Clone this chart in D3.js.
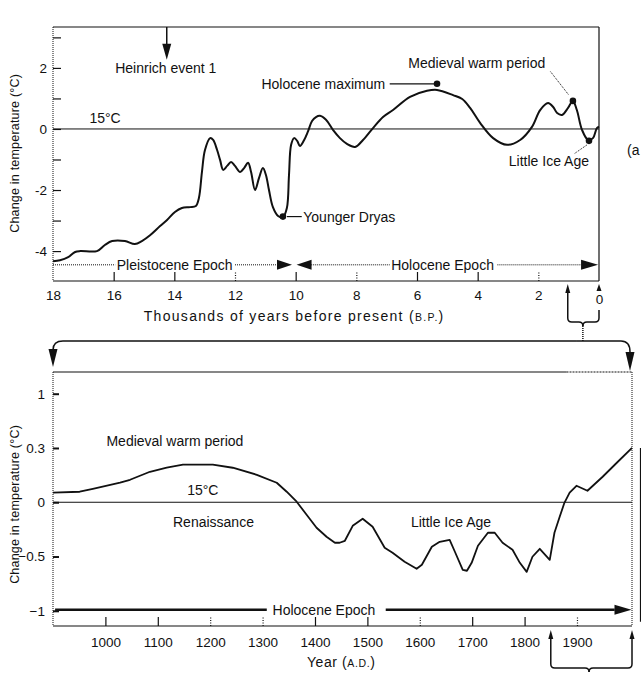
<!DOCTYPE html>
<html>
<head>
<meta charset="utf-8">
<script src="https://cdn.jsdelivr.net/npm/d3@7/dist/d3.min.js"></script>
<style>
  html, body { margin: 0; padding: 0; background: #fff; }
  svg { display: block; }
  text { font-family: "Liberation Sans", Arial, Helvetica, sans-serif; fill: #111; }
</style>
</head>
<body>
<svg id="chart" width="641" height="673"></svg>
<script>
// ---------- DATA ----------
// Top panel: thousands of years before present vs temperature change (°C)
const topYears = [18.0, 17.77, 17.5, 17.27, 17.1, 16.55, 16.29, 16.05, 15.63, 15.3, 15.07, 14.8, 14.47, 14.24, 13.98, 13.75, 13.48, 13.29, 13.19, 13.09, 12.99, 12.82, 12.72, 12.59, 12.49, 12.39, 12.26, 12.13, 12.0, 11.83, 11.7, 11.57, 11.47, 11.34, 11.21, 11.08, 10.98, 10.88, 10.75, 10.58, 10.42, 10.29, 10.22, 10.15, 10.05, 9.95, 9.86, 9.72, 9.59, 9.46, 9.33, 9.2, 9.0, 8.77, 8.54, 8.31, 8.04, 7.78, 7.45, 7.12, 6.79, 6.23, 5.67, 5.34, 4.81, 4.51, 4.25, 3.92, 3.49, 3.03, 2.6, 2.21, 1.94, 1.68, 1.51, 1.38, 1.22, 1.02, 0.86, 0.73, 0.56, 0.36, 0.2, 0.07, 0.0];
const topTemps = [-4.33, -4.3, -4.2, -4.03, -4.0, -4.0, -3.8, -3.67, -3.67, -3.77, -3.67, -3.48, -3.18, -2.98, -2.72, -2.59, -2.56, -2.52, -2.26, -1.41, -0.69, -0.3, -0.36, -0.69, -1.02, -1.34, -1.21, -1.08, -1.21, -1.41, -1.28, -1.11, -1.41, -2.0, -1.61, -1.28, -1.51, -2.0, -2.56, -2.85, -2.89, -2.59, -1.51, -0.52, -0.3, -0.39, -0.56, -0.36, -0.07, 0.26, 0.39, 0.43, 0.3, -0.03, -0.3, -0.49, -0.59, -0.36, 0.03, 0.39, 0.62, 1.05, 1.25, 1.28, 1.11, 0.98, 0.69, 0.2, -0.3, -0.52, -0.36, 0.07, 0.62, 0.85, 0.72, 0.52, 0.46, 0.69, 0.92, 0.62, -0.03, -0.36, -0.3, 0.03, 0.07];
const topXTicks = [18, 16, 14, 12, 10, 8, 6, 4, 2, 0];
const topXDotted = [12, 8, 2];
const topYTicks = [-4, -3, -2, -1, 0, 1, 2, 3];
const topYLabels = ["-4", "", "-2", "", "0", "", "2", ""];

// Top panel annotated points
const eventNames = ["Younger Dryas", "Holocene maximum", "Medieval warm period", "Little Ice Age"];
const eventYears = [10.42, 5.34, 0.86, 0.33];
const eventTemps = [-2.87, 1.48, 0.92, -0.39];

// Bottom panel: year AD vs temperature change (°C)
const botYears = [900, 951, 976, 1028, 1047, 1085, 1117, 1148, 1180, 1205, 1243, 1289, 1327, 1346, 1365, 1384, 1403, 1422, 1438, 1447, 1457, 1472, 1491, 1510, 1533, 1548, 1571, 1594, 1604, 1623, 1638, 1657, 1667, 1682, 1690, 1699, 1711, 1730, 1743, 1758, 1777, 1791, 1804, 1815, 1829, 1848, 1857, 1867, 1876, 1886, 1899, 1920, 1949, 1976, 2005];
const botTemps = [0.088, 0.097, 0.124, 0.18, 0.207, 0.281, 0.318, 0.346, 0.346, 0.346, 0.318, 0.253, 0.18, 0.097, 0.005, -0.115, -0.235, -0.318, -0.373, -0.373, -0.355, -0.217, -0.152, -0.226, -0.419, -0.465, -0.548, -0.613, -0.576, -0.41, -0.364, -0.346, -0.456, -0.622, -0.631, -0.558, -0.401, -0.281, -0.281, -0.373, -0.438, -0.558, -0.641, -0.502, -0.429, -0.53, -0.281, -0.134, -0.005, 0.088, 0.152, 0.106, 0.235, 0.364, 0.502];
const botXTicks = [1000, 1100, 1200, 1300, 1400, 1500, 1600, 1700, 1800, 1900];
const botXDotted = [1200, 1300, 1600, 1900];
const botYTicks = [-1, -0.5, 0, 0.5, 1];
const botYLabels = ["\u22121", "\u22120.5", "0", "0.3", "1"];

// ---------- DRAWING ----------
(function () {
const svg = d3.select("#chart");
const FONT = 14;      // annotation labels
const TICKF = 13.5;   // tick labels
const YTF = 12.5;     // y-axis titles

function arrowHead(g, x, y, dir, len, half) {
  let pts;
  if (dir === "down") pts = [[x, y], [x - half, y - len], [x + half, y - len]];
  if (dir === "up") pts = [[x, y], [x - half, y + len], [x + half, y + len]];
  if (dir === "right") pts = [[x, y], [x - len, y - half], [x - len, y + half]];
  if (dir === "left") pts = [[x, y], [x + len, y - half], [x + len, y + half]];
  g.append("path").attr("d", "M" + pts.map(p => p.join(",")).join("L") + "Z").attr("fill", "#111");
}

// ===== TOP PANEL =====
const xT = d3.scaleLinear().domain([18, 0]).range([53, 599]);
const yT = d3.scaleLinear().domain([-4.98, 3.34]).range([281, 27]);
const gT = svg.append("g");

gT.append("line").attr("x1", xT(18)).attr("x2", xT(0)).attr("y1", yT(3.34)).attr("y2", yT(3.34)).attr("stroke", "#111").attr("stroke-width", 1.2);
gT.append("line").attr("x1", xT(0)).attr("x2", xT(0)).attr("y1", yT(3.34)).attr("y2", yT(-4.98)).attr("stroke", "#111").attr("stroke-width", 1.2);
gT.append("line").attr("x1", xT(18)).attr("x2", xT(0)).attr("y1", yT(-4.98)).attr("y2", yT(-4.98)).attr("stroke", "#111").attr("stroke-width", 1.2);
gT.append("line").attr("x1", xT(18)).attr("x2", xT(18)).attr("y1", yT(3.34)).attr("y2", yT(-4.98)).attr("stroke", "#111").attr("stroke-width", 1).attr("stroke-dasharray", "1,1");

const yAxT = gT.append("g").attr("transform", `translate(${xT(18)},0)`)
  .call(d3.axisLeft(yT).tickValues(topYTicks).tickSize(-8).tickPadding(6)
    .tickFormat((d, i) => topYLabels[i]));
yAxT.select(".domain").remove();
yAxT.selectAll(".tick line").attr("stroke", "#111").attr("stroke-width", 1.2);
yAxT.selectAll(".tick text").attr("font-size", TICKF).attr("fill", "#111");

const xAxT = gT.append("g").attr("transform", `translate(0,${yT(-4.98)})`)
  .call(d3.axisBottom(xT).tickValues(topXTicks).tickSize(-9).tickPadding(9).tickFormat(d3.format("d")));
xAxT.select(".domain").remove();
xAxT.selectAll(".tick line").attr("stroke", "#111").attr("stroke-width", 1.2)
  .attr("stroke-dasharray", d => topXDotted.includes(d) ? "1,1.5" : null)
  .attr("opacity", d => (d === 18 || d === 0) ? 0 : 1);
xAxT.selectAll(".tick text").attr("font-size", TICKF).attr("fill", "#111")
  .attr("dy", d => d === 0 ? "1em" : "0.71em");

gT.append("line").attr("x1", xT(18)).attr("x2", xT(0)).attr("y1", yT(0)).attr("y2", yT(0)).attr("stroke", "#111").attr("stroke-width", 1);
gT.append("text").attr("x", xT(16.8)).attr("y", yT(0) - 6).attr("font-size", FONT).text("15°C");

const lineT = d3.line().x((d, i) => xT(topYears[i])).y((d, i) => yT(topTemps[i])).curve(d3.curveCatmullRom.alpha(0.5));
gT.append("path").datum(topYears).attr("d", lineT).attr("fill", "none").attr("stroke", "#111").attr("stroke-width", 2);

gT.selectAll("circle.ev").data(eventNames).enter().append("circle")
  .attr("cx", (d, i) => xT(eventYears[i])).attr("cy", (d, i) => yT(eventTemps[i])).attr("r", 3.3).attr("fill", "#111");

// Younger Dryas
gT.append("line").attr("x1", xT(eventYears[0]) + 4).attr("x2", xT(9.8)).attr("y1", yT(eventTemps[0])).attr("y2", yT(eventTemps[0])).attr("stroke", "#111").attr("stroke-width", 1.2);
gT.append("text").attr("x", xT(9.75)).attr("y", yT(eventTemps[0]) + 5).attr("font-size", FONT).text(eventNames[0]);

// Holocene maximum
gT.append("text").attr("x", xT(7.05)).attr("y", yT(eventTemps[1]) + 5).attr("font-size", FONT).attr("text-anchor", "end").text(eventNames[1]);
gT.append("line").attr("x1", xT(6.9)).attr("x2", xT(eventYears[1]) - 3).attr("y1", yT(eventTemps[1])).attr("y2", yT(eventTemps[1])).attr("stroke", "#111").attr("stroke-width", 1.2);

// Medieval warm period
gT.append("text").attr("x", xT(1.77)).attr("y", yT(2.0)).attr("font-size", FONT).attr("text-anchor", "end").text(eventNames[2]);
gT.append("line").attr("x1", xT(1.6)).attr("y1", yT(1.88)).attr("x2", xT(eventYears[2]) - 4).attr("y2", yT(eventTemps[2]) - 5.7)
  .attr("stroke", "#111").attr("stroke-width", 1).attr("stroke-dasharray", "1,1");

// Little Ice Age
gT.append("text").attr("x", xT(0.33)).attr("y", yT(-1.2)).attr("font-size", FONT).attr("text-anchor", "end").text(eventNames[3]);
gT.append("line").attr("x1", xT(0.8)).attr("y1", yT(-0.8)).attr("x2", xT(eventYears[3]) - 2).attr("y2", yT(eventTemps[3]) + 4)
  .attr("stroke", "#111").attr("stroke-width", 1).attr("stroke-dasharray", "1,1");

// Heinrich event 1
gT.append("line").attr("x1", xT(14.25)).attr("x2", xT(14.25)).attr("y1", yT(3.34)).attr("y2", yT(2.6)).attr("stroke", "#111").attr("stroke-width", 1.5);
arrowHead(gT, xT(14.25), yT(2.27), "down", 16, 4.5);
gT.append("text").attr("x", xT(15.95)).attr("y", yT(2) + 5).attr("font-size", FONT).text("Heinrich event 1");

gT.append("text").attr("x", 627).attr("y", yT(-0.85)).attr("font-size", FONT).text("(a");

// Epoch arrows
const epY = yT(-4.45);
gT.append("line").attr("x1", xT(18)).attr("x2", xT(15.95)).attr("y1", epY).attr("y2", epY).attr("stroke", "#111").attr("stroke-dasharray", "1,1");
gT.append("text").attr("x", xT(15.9)).attr("y", epY + 5).attr("font-size", FONT).text("Pleistocene Epoch");
gT.append("line").attr("x1", xT(12.0)).attr("x2", xT(10.6)).attr("y1", epY).attr("y2", epY).attr("stroke", "#111").attr("stroke-dasharray", "1,1");
arrowHead(gT, xT(10.12), epY, "right", 15, 5);
arrowHead(gT, xT(9.97), epY, "left", 15, 5);
gT.append("line").attr("x1", xT(9.5)).attr("x2", xT(6.9)).attr("y1", epY).attr("y2", epY).attr("stroke", "#111").attr("stroke-dasharray", "1,1");
gT.append("text").attr("x", xT(6.85)).attr("y", epY + 5).attr("font-size", FONT).text("Holocene Epoch");
gT.append("line").attr("x1", xT(3.35)).attr("x2", xT(0.6)).attr("y1", epY).attr("y2", epY).attr("stroke", "#111").attr("stroke-dasharray", "1,1");
arrowHead(gT, xT(0.03), epY, "right", 17, 5);

// axis titles
const tT = gT.append("text").attr("x", xT(10.05)).attr("y", 321).attr("font-size", FONT).attr("letter-spacing", 1.3).attr("text-anchor", "middle");
tT.append("tspan").text("Thousands of years before present (");
tT.append("tspan").attr("font-size", 10.5).text("B.P.");
tT.append("tspan").text(")");
gT.append("text").attr("transform", `translate(19,${yT(-0.8)}) rotate(-90)`).attr("font-size", YTF).attr("letter-spacing", 0.2).attr("text-anchor", "middle").text("Change in temperature (°C)");

// brace below top axis
const bx1 = xT(1.03), bx2 = xT(0), bxm = (bx1 + bx2) / 2 - 0.5;
const b = svg.append("g").attr("fill", "none").attr("stroke", "#111").attr("stroke-width", 1.5);
b.append("path").attr("d", `M${bx1},292 V318 Q${bx1},322 ${bx1 + 4},322 H${bxm - 4} Q${bxm},322 ${bxm},326`);
b.append("path").attr("d", `M${bx2},310 V318 Q${bx2},322 ${bx2 - 4},322 H${bxm + 4} Q${bxm},322 ${bxm},326`);
b.append("line").attr("x1", bxm).attr("x2", bxm).attr("y1", 326).attr("y2", 341).attr("stroke-dasharray", "1,1");
arrowHead(svg, bx1, 284, "up", 9, 2.5);
arrowHead(svg, bx2, 284, "up", 7, 2.5);

// ===== BOTTOM PANEL =====
const xB = d3.scaleLinear().domain([900, 2005]).range([53, 632]);
const yB = d3.scaleLinear().domain([-1.14, 1.2]).range([626, 372]);
const gB = svg.append("g");

const cy = 341;
const c = svg.append("g").attr("fill", "none").attr("stroke", "#111").attr("stroke-width", 1.5);
c.append("path").attr("d", `M${xB(1900)},${cy} H${xB(2005) - 11} Q${xB(2005) - 2},${cy} ${xB(2005) - 2},${cy + 11}`);
c.append("path").attr("d", `M${xB(1900)},${cy} H${xB(900) + 10} Q${xB(900)},${cy} ${xB(900)},${cy + 9}`);
arrowHead(svg, xB(900), 367, "down", 18, 4.5);
arrowHead(svg, xB(2005) - 2, 371, "down", 19, 4.5);

gB.append("line").attr("x1", xB(900)).attr("x2", xB(1880)).attr("y1", yB(1.2)).attr("y2", yB(1.2)).attr("stroke", "#111").attr("stroke-width", 1.2);
gB.append("line").attr("x1", xB(1880)).attr("x2", xB(2005)).attr("y1", yB(1.2)).attr("y2", yB(1.2)).attr("stroke", "#111").attr("stroke-width", 1.2).attr("stroke-dasharray", "2,1");
gB.append("line").attr("x1", xB(2005)).attr("x2", xB(2005)).attr("y1", yB(1.2)).attr("y2", yB(-1.14)).attr("stroke", "#111").attr("stroke-width", 1).attr("stroke-dasharray", "1,1");
gB.append("line").attr("x1", xB(900)).attr("x2", xB(900)).attr("y1", yB(1.2)).attr("y2", yB(-1.14)).attr("stroke", "#111").attr("stroke-width", 1).attr("stroke-dasharray", "1,1");
gB.append("line").attr("x1", xB(900)).attr("x2", xB(2005)).attr("y1", yB(-1.14)).attr("y2", yB(-1.14)).attr("stroke", "#111").attr("stroke-width", 1.2);

const yAxB = gB.append("g").attr("transform", `translate(${xB(900)},0)`)
  .call(d3.axisLeft(yB).tickValues(botYTicks).tickSize(-6).tickPadding(8)
    .tickFormat((d, i) => botYLabels[i]));
yAxB.select(".domain").remove();
yAxB.selectAll(".tick line").attr("stroke", "#111").attr("stroke-width", 2);
yAxB.selectAll(".tick text").attr("font-size", TICKF).attr("fill", "#111");

const xAxB = gB.append("g").attr("transform", `translate(0,${yB(-1.14)})`)
  .call(d3.axisBottom(xB).tickValues(botXTicks).tickSize(-9).tickPadding(11).tickFormat(d3.format("d")));
xAxB.select(".domain").remove();
xAxB.selectAll(".tick line").attr("stroke", "#111").attr("stroke-width", 1.2)
  .attr("stroke-dasharray", d => botXDotted.includes(d) ? "1,1.5" : null);
xAxB.selectAll(".tick text").attr("font-size", TICKF).attr("fill", "#111");

gB.append("line").attr("x1", xB(900)).attr("x2", xB(2005)).attr("y1", yB(0)).attr("y2", yB(0)).attr("stroke", "#111").attr("stroke-width", 1);

const lineB = d3.line().x((d, i) => xB(botYears[i])).y((d, i) => yB(botTemps[i])).curve(d3.curveLinear);
gB.append("path").datum(botYears).attr("d", lineB).attr("fill", "none").attr("stroke", "#111").attr("stroke-width", 1.8).attr("stroke-linejoin", "round");

gB.append("text").attr("x", xB(1002)).attr("y", yB(0.52)).attr("font-size", FONT).text("Medieval warm period");
gB.append("text").attr("x", xB(1186)).attr("y", yB(0.07)).attr("font-size", FONT).attr("text-anchor", "middle").text("15°C");
gB.append("text").attr("x", xB(1129)).attr("y", yB(-0.23)).attr("font-size", FONT).text("Renaissance");
gB.append("text").attr("x", xB(1583)).attr("y", yB(-0.23)).attr("font-size", FONT).text("Little Ice Age");

const eY = yB(-0.99);
gB.append("line").attr("x1", xB(904)).attr("x2", xB(1308)).attr("y1", eY).attr("y2", eY).attr("stroke", "#111").attr("stroke-width", 2.6);
gB.append("text").attr("x", xB(1319)).attr("y", eY + 5).attr("font-size", FONT).text("Holocene Epoch");
gB.append("line").attr("x1", xB(1535)).attr("x2", xB(1972)).attr("y1", eY).attr("y2", eY).attr("stroke", "#111").attr("stroke-width", 2.6);
arrowHead(gB, xB(2004), eY, "right", 17, 5);

const tB = gB.append("text").attr("x", xB(1450)).attr("y", 667).attr("font-size", FONT).attr("letter-spacing", 0.6).attr("text-anchor", "middle");
tB.append("tspan").text("Year (");
tB.append("tspan").attr("font-size", 10.5).text("A.D.");
tB.append("tspan").text(")");
gB.append("text").attr("transform", `translate(19,${yB(-0.02)}) rotate(-90)`).attr("font-size", YTF).attr("letter-spacing", 0.2).attr("text-anchor", "middle").text("Change in temperature (°C)");

const ux1 = xB(1850), ux2 = xB(2005), uxm = xB(1923);
const u = svg.append("g").attr("fill", "none").attr("stroke", "#111").attr("stroke-width", 1.5);
u.append("path").attr("d", `M${ux1},638 V664 Q${ux1},668 ${ux1 + 4},668 H${uxm - 4} Q${uxm},668 ${uxm},672`);
u.append("path").attr("d", `M${ux2},638 V664 Q${ux2},668 ${ux2 - 4},668 H${uxm + 4} Q${uxm},668 ${uxm},672`);
arrowHead(svg, ux1, 630, "up", 9, 2.5);
arrowHead(svg, ux2, 630, "up", 9, 2.5);

svg.append("line").attr("x1", 640.5).attr("x2", 640.5).attr("y1", yB(0.5)).attr("y2", yB(-1.1)).attr("stroke", "#111").attr("stroke-width", 1.2);
})();
</script>
</body>
</html>
